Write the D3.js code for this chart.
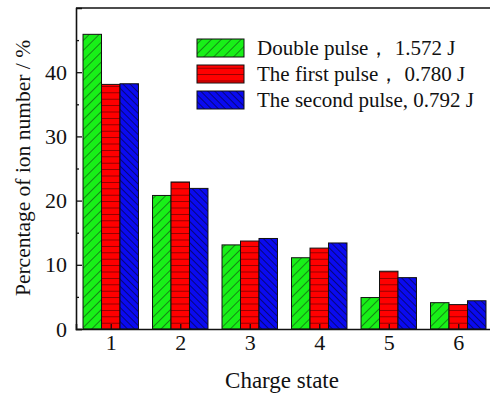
<!DOCTYPE html>
<html>
<head>
<meta charset="utf-8">
<script src="https://cdn.jsdelivr.net/npm/d3@7"></script>
<style>
  body { margin: 0; background: #fff; }
  text { font-family: "Liberation Serif", "Times New Roman", serif; fill: #111; }
</style>
</head>
<body>
<div id="chart"></div>
<script>
// data
const chargeStates = [1, 2, 3, 4, 5, 6];
const seriesNames = ["Double pulse\uFF0C 1.572 J", "The first pulse\uFF0C 0.780 J", "The second pulse, 0.792 J"];
const doublePulse = [45.9, 20.8, 13.1, 11.1, 4.9, 4.1];
const firstPulse  = [38.1, 22.9, 13.7, 12.6, 9.0, 3.8];
const secondPulse = [38.2, 21.9, 14.1, 13.4, 8.0, 4.4];
const yTicks = [0, 10, 20, 30, 40];

const W = 490, H = 394;
const margin = { top: 8, left: 76, bottom: 65 };
const plotRight = 493; // frame runs a bit past the window edge
const serif = '"Liberation Serif", "Times New Roman", serif';

const svg = d3.select('#chart').append('svg')
    .attr('width', W).attr('height', H);

const x = d3.scaleLinear().domain([0.5, 6.5]).range([margin.left, plotRight]);
const y = d3.scaleLinear().domain([0, 50]).range([H - margin.bottom, margin.top]);

// hatch patterns
const defs = svg.append('defs');
function hatch(id, fill, stroke, size, angle, sw) {
    const p = defs.append('pattern')
        .attr('id', id)
        .attr('patternUnits', 'userSpaceOnUse')
        .attr('width', size).attr('height', size)
        .attr('patternTransform', `rotate(${angle})`);
    p.append('rect').attr('width', size).attr('height', size).attr('fill', fill);
    p.append('line')
        .attr('x1', 0).attr('y1', size / 2).attr('x2', size).attr('y2', size / 2)
        .attr('stroke', stroke).attr('stroke-width', sw);
}
hatch('hGreen', '#18f018', '#157a15', 7, -45, 0.9);
hatch('hRed', '#ff0000', '#8a0000', 6.4, 0, 0.9);
hatch('hBlue', '#0a0af0', '#06066e', 5, 45, 0.9);
const fills = ['url(#hGreen)', 'url(#hRed)', 'url(#hBlue)'];

const series = [doublePulse, firstPulse, secondPulse];
const step = x(2) - x(1);
const barW = step * 0.266;

const bars = svg.append('g').attr('class', 'bars');
series.forEach((vals, si) => {
    bars.selectAll(`.s${si}`)
        .data(vals)
        .join('rect')
        .attr('class', `s${si}`)
        .attr('x', (d, i) => x(chargeStates[i]) + (si - 1.5) * barW)
        .attr('y', d => y(d))
        .attr('width', barW)
        .attr('height', d => y(0) - y(d))
        .attr('fill', fills[si])
        .attr('stroke', '#111')
        .attr('stroke-width', 1);
});

// axes
const yAxis = svg.append('g')
    .attr('transform', `translate(${margin.left},0)`)
    .call(d3.axisLeft(y).tickValues(yTicks).tickSize(-6).tickPadding(9).tickFormat(d3.format('d')));
const yMinor = svg.append('g')
    .attr('transform', `translate(${margin.left},0)`)
    .call(d3.axisLeft(y).tickValues(d3.range(5, 50, 10)).tickSize(-3).tickFormat(''));
yMinor.select('.domain').remove();

const xAxis = svg.append('g')
    .attr('transform', `translate(0,${y(0)})`)
    .call(d3.axisBottom(x).tickValues(chargeStates).tickSize(-5).tickPadding(5).tickFormat(d3.format('d')));

[yAxis, yMinor, xAxis].forEach(g => {
    g.attr('font-family', serif).attr('font-size', 22);
    g.selectAll('.domain').attr('stroke', '#111').attr('stroke-width', 1.6);
    g.selectAll('.tick line').attr('stroke', '#111').attr('stroke-width', 1.3);
    g.selectAll('.tick text').attr('fill', '#111');
});

// top frame line
svg.append('line')
    .attr('x1', margin.left).attr('x2', plotRight)
    .attr('y1', y(50)).attr('y2', y(50))
    .attr('stroke', '#111').attr('stroke-width', 1.6);

// axis titles
svg.append('text')
    .attr('x', 282)
    .attr('y', 388)
    .attr('text-anchor', 'middle')
    .style('font-size', '23px')
    .text('Charge state');

svg.append('text')
    .attr('transform', 'translate(30,168) rotate(-90)')
    .attr('text-anchor', 'middle')
    .style('font-size', '21.5px')
    .text('Percentage of ion number / %');

// legend
const legend = svg.append('g').attr('transform', 'translate(197,39)');
seriesNames.forEach((name, i) => {
    const row = legend.append('g').attr('transform', `translate(0,${i * 26})`);
    row.append('rect')
        .attr('width', 47).attr('height', 18)
        .attr('fill', fills[i])
        .attr('stroke', '#111').attr('stroke-width', 1);
    row.append('text')
        .attr('x', 60).attr('y', 16)
        .style('font-size', '21px')
        .text(name);
});
</script>
</body>
</html>
